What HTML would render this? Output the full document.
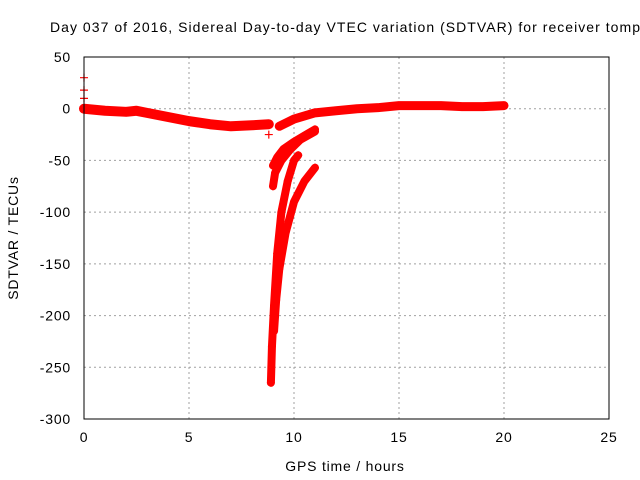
<!DOCTYPE html>
<html><head><meta charset="utf-8"><style>
body{margin:0;background:#fff}
svg{display:block;font-family:"Liberation Sans",sans-serif;font-size:14px}
.t{letter-spacing:0.8px}
</style></head><body>
<svg id="c" width="640" height="480">
<text x="50" y="32" textLength="590" lengthAdjust="spacing">Day 037 of 2016, Sidereal Day-to-day VTEC variation (SDTVAR) for receiver tomp</text>
<text class="t" x="345" y="471" text-anchor="middle">GPS time / hours</text>
<text class="t" transform="translate(18,238) rotate(-90)" text-anchor="middle">SDTVAR / TECUs</text>
<g id="grid"></g><g id="marks"></g>
<rect x="84" y="57" width="525" height="362" fill="none" stroke="#000"/>
</svg>
<script>
const xTicks=[0,5,10,15,20,25];
const yTicks=[50,0,-50,-100,-150,-200,-250,-300];
const mainA=[[0,0],[0.5,-1],[1,-2],[2,-3],[2.5,-2],[3,-4],[4,-8],[5,-12],[6,-15],[7,-17],[8,-16],[8.8,-15]];
const mainB=[[9.3,-17],[9.7,-13],[10,-10],[10.5,-7],[11,-4],[12,-2],[13,0],[14,1],[15,3],[16,3],[17,3],[18,2],[19,2],[20,3]];
const arcA=[[9.0,-55],[9.2,-47],[9.5,-39],[10,-32],[10.5,-26],[11,-20]];
const arcB=[[9.0,-75],[9.1,-62],[9.4,-50],[9.8,-40],[10.3,-30],[11,-22]];
const arcC=[[8.9,-265],[8.95,-230],[9.05,-190],[9.2,-140],[9.4,-100],[9.7,-70],[10,-50],[10.2,-45]];
const arcD=[[9.05,-215],[9.15,-185],[9.3,-155],[9.6,-120],[10,-90],[10.5,-70],[11,-57]];
const outliers=[[0,30],[0,18],[0,10],[8.8,-25]];
const X=t=>84+t*21, Y=v=>57+(50-v)*362/350;
const NS="http://www.w3.org/2000/svg";
const svg=document.getElementById('c'),g=document.getElementById('grid'),m=document.getElementById('marks');
function el(tag,a,p){const e=document.createElementNS(NS,tag);for(const k in a)e.setAttribute(k,a[k]);p.appendChild(e);return e;}
xTicks.forEach(t=>{
 const l=el('line',{x1:X(t),x2:X(t),y1:57,y2:419,stroke:'#a0a0a0','stroke-dasharray':'2,3'},g);
 
 
 const tx=el('text',{x:X(t),y:442,'text-anchor':'middle','class':'t'},svg);tx.textContent=t;
 
 
});
yTicks.forEach(v=>{
 const l=el('line',{x1:84,x2:609,y1:Y(v),y2:Y(v),stroke:'#a0a0a0','stroke-dasharray':'2,3'},g);
 
 
 const tx=el('text',{x:71,y:Y(v)+5,'text-anchor':'end','class':'t'},svg);tx.textContent=v;
 
 
});
function series(d,name,w){
 const p=el('polyline',{points:d.map(q=>X(q[0])+','+Y(q[1])).join(' '),fill:'none',stroke:'#f00','stroke-width':w,'stroke-linejoin':'round','stroke-linecap':'round'},m);
 
 
 d.forEach(q=>{const x=X(q[0]),y=Y(q[1]);
  const c=el('path',{d:`M${x-4},${y}H${x+4}M${x},${y-4}V${y+4}`,stroke:'#f00','stroke-width':1.2},m);
  
  });
}
series(mainA,'main-band-early',10);series(mainB,'main-band-late',9);
series(arcA,'arc-a',8);series(arcB,'arc-b',8);series(arcC,'arc-c',8);series(arcD,'arc-d',8);
outliers.forEach(q=>{const x=X(q[0]),y=Y(q[1]);
 const c=el('path',{d:`M${x-4},${y}H${x+4}M${x},${y-4}V${y+4}`,stroke:'#f00','stroke-width':1.2},m);
 
 });
</script>
</body></html>
